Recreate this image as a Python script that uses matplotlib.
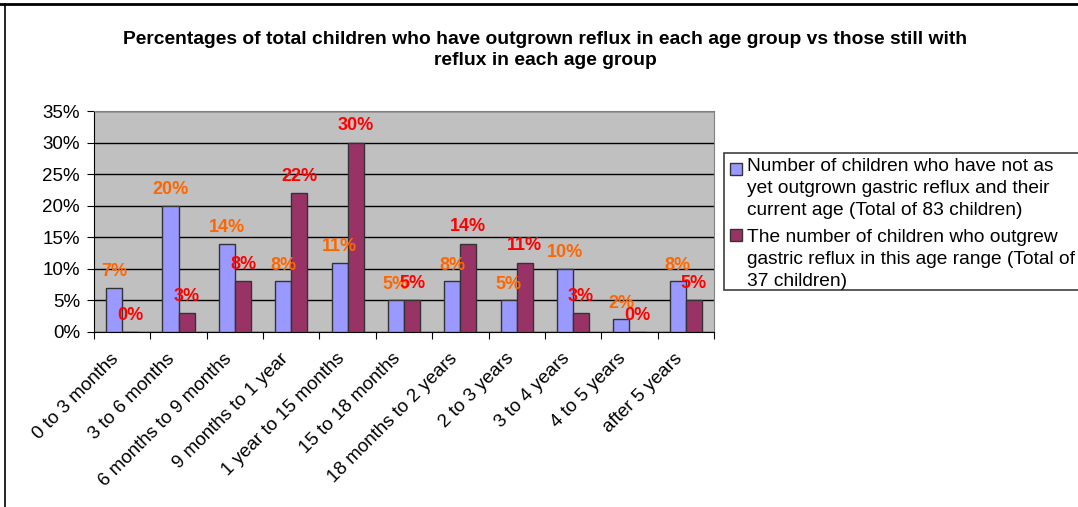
import matplotlib.pyplot as plt
import numpy as np
from matplotlib.patches import Rectangle
from matplotlib.lines import Line2D

plt.rcParams['font.family'] = ['Liberation Sans', 'DejaVu Sans']

categories = ["0 to 3 months", "3 to 6 months", "6 months to 9 months", "9 months to 1 year",
              "1 year to 15 months", "15 to 18 months", "18 months to 2 years", "2 to 3 years",
              "3 to 4 years", "4 to 5 years", "after 5 years"]
not_outgrown = [7, 20, 14, 8, 11, 5, 8, 5, 10, 2, 8]
outgrew = [0, 3, 8, 22, 30, 5, 14, 11, 3, 0, 5]
yticks = [0, 5, 10, 15, 20, 25, 30, 35]
label1 = "Number of children who have not as\nyet outgrown gastric reflux and their\ncurrent age (Total of 83 children)"
label2 = "The number of children who outgrew\ngastric reflux in this age range (Total of\n37 children)"
title = "Percentages of total children who have outgrown reflux in each age group vs those still with\nreflux in each age group"

W, H = 1078, 507
fig = plt.figure(figsize=(W/100, H/100), dpi=100)
ax = fig.add_axes([94/W, 1-332/H, 620/W, 221/H])

x = np.arange(len(categories))
w = 1/3.5
ax.bar(x - w/2, not_outgrown, w, color="#9999FF", edgecolor="#333333", linewidth=1, zorder=3)
ax.bar(x + w/2, outgrew, w, color="#993366", edgecolor="#333333", linewidth=1, zorder=3)

for xi, v in zip(x, not_outgrown):
    ax.annotate(f"{v}%", (xi - w/2, v), xytext=(0, 16*0.72), textcoords="offset points",
                ha="center", va="center", color="#FF6600", fontsize=13, fontweight="bold", zorder=5)
for xi, v in zip(x, outgrew):
    ax.annotate(f"{v}%", (xi + w/2, v), xytext=(0, 17*0.72), textcoords="offset points",
                ha="center", va="center", color="#FF0000", fontsize=13, fontweight="bold", zorder=5)

ax.set_facecolor("#C0C0C0")
ax.set_xlim(-0.5, len(categories) - 0.5)
ax.set_ylim(0, 35)
ax.set_yticks(yticks)
ax.set_yticklabels([f"{t}%" for t in yticks], fontsize=13.5)
ax.yaxis.grid(True, color="black", linewidth=1, zorder=1)
ax.set_axisbelow(True)
ax.set_xticks(np.arange(len(categories) + 1) - 0.5)
ax.set_xticklabels([""] * (len(categories) + 1))
ax.set_xticks(x, minor=True)
ax.set_xticklabels(categories, minor=True, rotation=45, ha="right", va="top", fontsize=13.5)
ax.tick_params(axis="x", which="minor", length=0, pad=13)
ax.tick_params(axis="x", which="major", length=5, direction="out", color="black")
ax.tick_params(axis="y", length=5, direction="out", color="black", pad=5)
for s in ["top", "right"]:
    ax.spines[s].set_color("#808080")
ax.spines["left"].set_color("black")
ax.spines["bottom"].set_color("black")

fig.text(545/W, 1-31/H, title, ha="center", va="top", fontsize=13.9, fontweight="bold",
         linespacing=1.3)

# legend, drawn by hand so that the squares sit on the first line of each entry
fig.add_artist(Rectangle((724/W, 1-290/H), 400/W, 137/H, transform=fig.transFigure,
                         facecolor="white", edgecolor="#404040", linewidth=1.2))
for ytop, color, label in [(163, "#9999FF", label1), (229, "#993366", label2)]:
    fig.add_artist(Rectangle((730/W, 1-(ytop+12)/H), 12/W, 12/H, transform=fig.transFigure,
                             facecolor=color, edgecolor="#333333", linewidth=1))
fig.text(747/W, 1-158/H, label1, ha="left", va="top", fontsize=13.8, linespacing=1.38)
fig.text(747/W, 1-229/H, label2, ha="left", va="top", fontsize=13.8, linespacing=1.38)

# page frame
fig.add_artist(Line2D([5/W, 5/W], [0, 1-4/H], transform=fig.transFigure, color="black", lw=1.2))
fig.add_artist(Line2D([0, 1], [1-4/H, 1-4/H], transform=fig.transFigure, color="black", lw=2))

fig.savefig("out.png", dpi=100)
